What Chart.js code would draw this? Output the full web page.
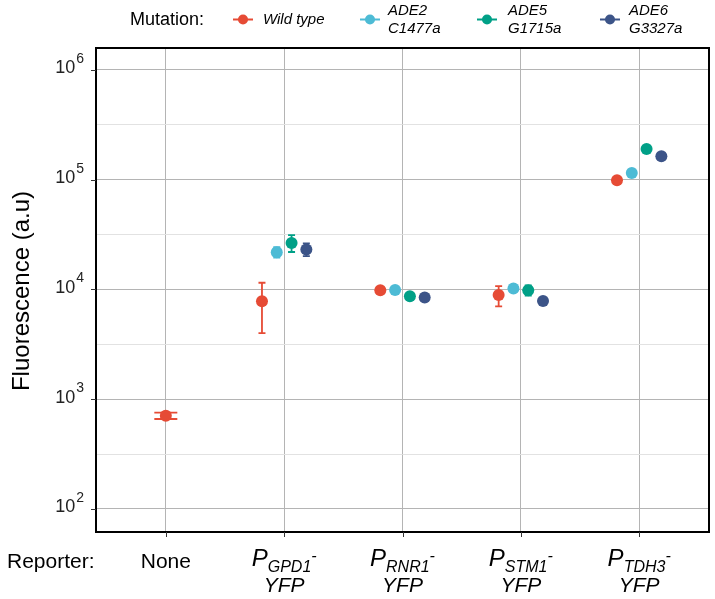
<!DOCTYPE html>
<html><head><meta charset="utf-8">
<script src="https://cdn.jsdelivr.net/npm/chart.js@4"></script>
<style>html,body{margin:0;padding:0;background:#fff;}#wrap{width:715px;height:599px;}</style>
</head><body><div id="wrap"><canvas id="c" width="715" height="599"></canvas></div>
<script>
// ---- data ----
const categories = ["None", "GPD1", "RNR1", "STM1", "TDH3"];
const seriesNames = ["Wild type", "ADE2 C1477a", "ADE5 G1715a", "ADE6 G3327a"];
const wildType   = [705,  7800,  9800, 8900,  98600];
const wildTypeLo = [660,  4000,  9550, 7000,  96000];
const wildTypeHi = [755, 11500, 10050, 10700, 101500];
const ade2   = [null, 21800, 9850, 10200, 115000];
const ade2Lo = [null, 19500, 9600,  9700, 107000];
const ade2Hi = [null, 24300, 10100, 10700, 123000];
const ade5   = [null, 26500, 8640, 9800, 190000];
const ade5Lo = [null, 21900, 8400, 8800, 185000];
const ade5Hi = [null, 31200, 8900, 10900, 195000];
const ade6   = [null, 23100, 8450, 7830, 163000];
const ade6Lo = [null, 20100, 8250, 7600, 158000];
const ade6Hi = [null, 26200, 8650, 8050, 168000];
const yTickExponents = [2, 3, 4, 5, 6];
const yHalfTicks = [2.5, 3.5, 4.5, 5.5];

// ---- style ----
const colors = ["#E64B35", "#4DBBD5", "#00A087", "#3C5488"];
const FONT = "'Liberation Sans', Arial, Helvetica, sans-serif";

const means = [wildType, ade2, ade5, ade6];
const los = [wildTypeLo, ade2Lo, ade5Lo, ade6Lo];
const his = [wildTypeHi, ade2Hi, ade5Hi, ade6Hi];

const dodge = 0.125;
const datasets = means.map((m, s) => {
  const data = [];
  categories.forEach((c, i) => {
    if (m[i] == null) return;
    const present = means.map((mm, k) => mm[i] != null ? k : -1).filter(k => k >= 0);
    const n = present.length;
    const rank = present.indexOf(s);
    const off = (rank - (n - 1) / 2) * dodge;
    data.push({ x: i + 1 + off, y: m[i], lo: los[s][i], hi: his[s][i], n: n });
  });
  return {
    label: seriesNames[s], data: data,
    backgroundColor: colors[s], borderColor: colors[s],
    pointRadius: 6, pointHoverRadius: 6, pointBorderWidth: 0, showLine: false
  };
});

function txt(ctx, s, x, y, font, align, base, color) {
  ctx.save();
  ctx.font = font; ctx.textAlign = align || 'left'; ctx.textBaseline = base || 'alphabetic';
  ctx.fillStyle = color || '#000';
  ctx.fillText(s, x, y);
  ctx.restore();
}

const errorBars = {
  id: 'errorBars',
  beforeDatasetsDraw(chart) {
    const ctx = chart.ctx, xs = chart.scales.x, ys = chart.scales.y;
    chart.data.datasets.forEach((ds) => {
      ctx.save();
      ctx.strokeStyle = ds.borderColor; ctx.lineWidth = 1.8;
      ds.data.forEach(p => {
        const px = xs.getPixelForValue(p.x);
        const y1 = ys.getPixelForValue(p.lo), y2 = ys.getPixelForValue(p.hi);
        const hw = p.n === 1 ? 11.5 : 3.5;
        ctx.beginPath();
        ctx.moveTo(px, y1); ctx.lineTo(px, y2);
        ctx.moveTo(px - hw, y1); ctx.lineTo(px + hw, y1);
        ctx.moveTo(px - hw, y2); ctx.lineTo(px + hw, y2);
        ctx.stroke();
      });
      ctx.restore();
    });
  }
};

const decor = {
  id: 'decor',
  afterDraw(chart) {
    const ctx = chart.ctx, a = chart.chartArea, xs = chart.scales.x, ys = chart.scales.y;
    // box
    ctx.save();
    ctx.strokeStyle = '#000'; ctx.lineWidth = 2;
    ctx.strokeRect(a.left, a.top, a.right - a.left, a.bottom - a.top);
    // ticks
    ctx.strokeStyle = '#333'; ctx.lineWidth = 1;
    ctx.beginPath();
    yTickExponents.forEach(e => {
      const y = Math.round(ys.getPixelForValue(Math.pow(10, e))) + 0.5;
      ctx.moveTo(a.left - 5, y); ctx.lineTo(a.left, y);
    });
    categories.forEach((c, i) => {
      const x = Math.round(xs.getPixelForValue(i + 1)) + 0.5;
      ctx.moveTo(x, a.bottom); ctx.lineTo(x, a.bottom + 5);
    });
    ctx.stroke();
    ctx.restore();
    // y tick labels 10^e
    yTickExponents.forEach(e => {
      const y = ys.getPixelForValue(Math.pow(10, e));
      ctx.save();
      ctx.font = '14px ' + FONT;
      const sw = ctx.measureText(String(e)).width;
      ctx.restore();
      const right = 84;
      txt(ctx, String(e), right, y - 7, '14px ' + FONT, 'right', 'alphabetic', '#222');
      txt(ctx, '10', right - sw - 1, y + 3.5, '18px ' + FONT, 'right', 'alphabetic', '#222');
    });
    // y title
    ctx.save();
    ctx.translate(22, (a.top + a.bottom) / 2 + 1);
    ctx.rotate(-Math.PI / 2);
    txt(ctx, 'Fluorescence (a.u)', 0, 0, '24px ' + FONT, 'center', 'middle', '#000');
    ctx.restore();
    // x labels
    txt(ctx, 'Reporter:', 7, 568, '21px ' + FONT, 'left', 'alphabetic', '#000');
    categories.forEach((c, i) => {
      const x = xs.getPixelForValue(i + 1);
      if (c === 'None') {
        txt(ctx, c, x, 568, '21px ' + FONT, 'center', 'alphabetic', '#000');
        return;
      }
      const parts = [
        { t: 'P', f: 'italic 24px ' + FONT, dy: 0 },
        { t: c, f: 'italic 16px ' + FONT, dy: 6 },
        { t: '-', f: 'italic 16px ' + FONT, dy: -5 }
      ];
      let w = 0;
      parts.forEach(p => { ctx.font = p.f; p.w = ctx.measureText(p.t).width; w += p.w; });
      let cx = x - w / 2;
      parts.forEach(p => { txt(ctx, p.t, cx, 566 + p.dy, p.f, 'left', 'alphabetic', '#000'); cx += p.w; });
      txt(ctx, 'YFP', x, 592, 'italic 21px ' + FONT, 'center', 'alphabetic', '#000');
    });
    // legend
    txt(ctx, 'Mutation:', 130, 20, '18px ' + FONT, 'left', 'middle', '#000');
    const lx = [243, 370, 487, 610];
    const tx = [263, 388, 508, 629];
    seriesNames.forEach((nm, s) => {
      ctx.save();
      ctx.strokeStyle = colors[s]; ctx.lineWidth = 2;
      ctx.beginPath(); ctx.moveTo(lx[s] - 10, 19.5); ctx.lineTo(lx[s] + 10, 19.5); ctx.stroke();
      ctx.fillStyle = colors[s];
      ctx.beginPath(); ctx.arc(lx[s], 19.5, 5, 0, Math.PI * 2); ctx.fill();
      ctx.restore();
      const lines = nm.split(' ');
      if (s === 0) {
        txt(ctx, nm, tx[s], 19.5, 'italic 15px ' + FONT, 'left', 'middle', '#000');
      } else {
        txt(ctx, lines[0], tx[s], 11, 'italic 15px ' + FONT, 'left', 'middle', '#000');
        txt(ctx, lines[1], tx[s], 29, 'italic 15px ' + FONT, 'left', 'middle', '#000');
      }
    });
  }
};

new Chart(document.getElementById('c'), {
  type: 'scatter',
  data: { datasets: datasets },
  options: {
    responsive: false, animation: false,
    layout: { padding: { top: 48, left: 96, right: 2, bottom: 67 } },
    plugins: { legend: { display: false }, tooltip: { enabled: false } },
    scales: {
      x: {
        type: 'linear', min: 0.41, max: 5.59,
        afterBuildTicks: (sc) => { sc.ticks = categories.map((c, i) => ({ value: i + 1 })); },
        ticks: { display: false },
        grid: { color: '#b4b4b4', lineWidth: 1, drawTicks: false },
        border: { display: false }
      },
      y: {
        type: 'logarithmic', min: 61.7, max: 1.58e6,
        afterBuildTicks: (sc) => {
          const all = yTickExponents.concat(yHalfTicks).sort((p, q) => p - q);
          sc.ticks = all.map(e => ({ value: Math.pow(10, e), major: Number.isInteger(e) }));
        },
        ticks: { display: false },
        grid: {
          color: (ctx) => (ctx.tick && ctx.tick.major) ? '#b4b4b4' : '#e2e2e2',
          lineWidth: 1, drawTicks: false
        },
        border: { display: false }
      }
    }
  },
  plugins: [errorBars, decor]
});
</script>
</body></html>
